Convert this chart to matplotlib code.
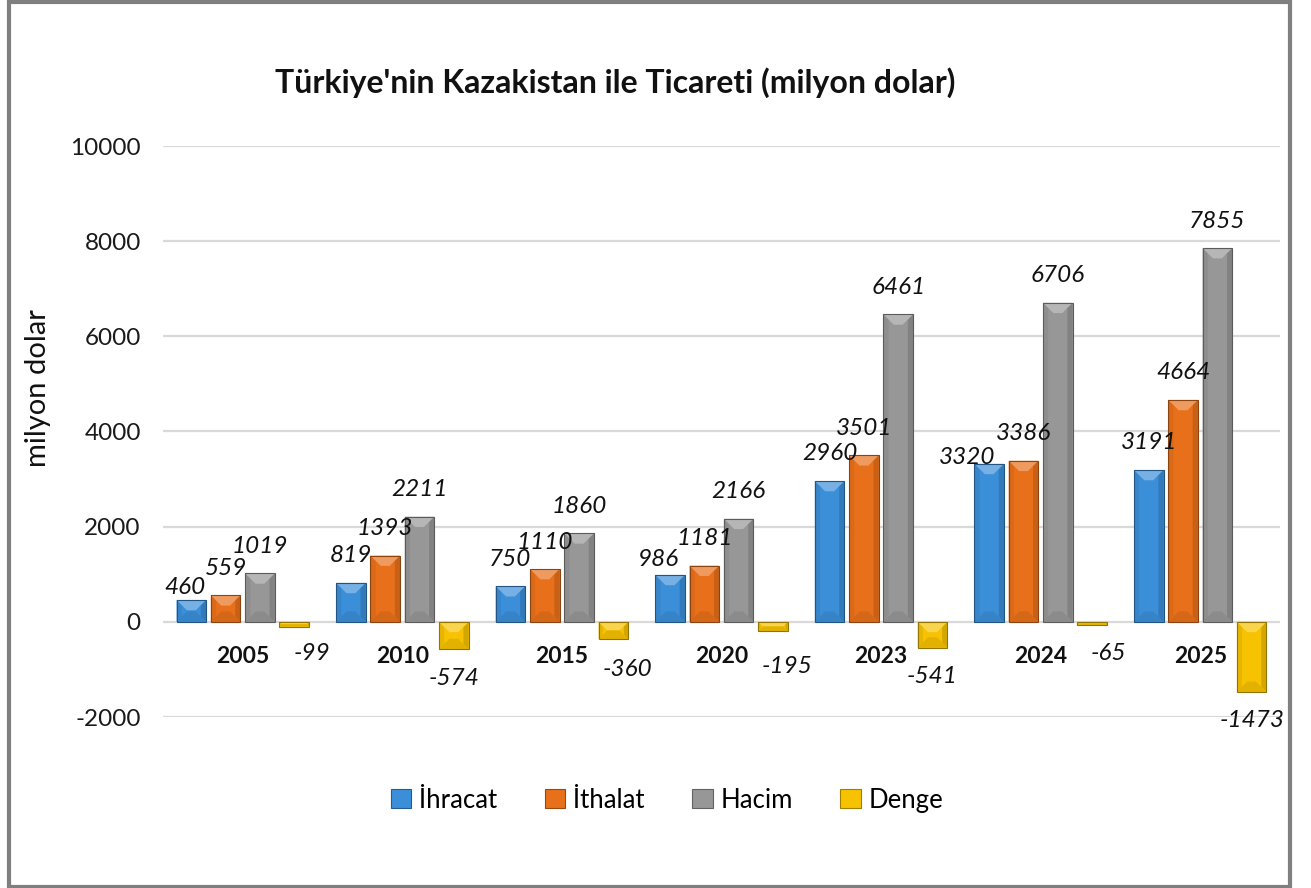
import matplotlib
matplotlib.use("Agg")
import matplotlib.pyplot as plt
from matplotlib.patches import Polygon, Rectangle, Patch
import numpy as np

# ---------------- data ----------------
years = ["2005", "2010", "2015", "2020", "2023", "2024", "2025"]
ihracat = [460, 819, 750, 986, 2960, 3320, 3191]
ithalat = [559, 1393, 1110, 1181, 3501, 3386, 4664]
hacim = [1019, 2211, 1860, 2166, 6461, 6706, 7855]
denge = [-99, -574, -360, -195, -541, -65, -1473]
series_names = ["İhracat", "İthalat", "Hacim", "Denge"]
title = "Türkiye'nin Kazakistan ile Ticareti (milyon dolar)"
ylabel = "milyon dolar"

# ---------------- style ----------------
colors = ["#3B8ED8", "#E8701A", "#979797", "#F7C200"]
FONT = "Lato"
plt.rcParams["font.family"] = [FONT, "DejaVu Sans"]
plt.rcParams["axes.unicode_minus"] = False

W, H = 1311, 888
fig = plt.figure(figsize=(W / 100, H / 100), dpi=100)
ax_l, ax_r, ax_t, ax_b = 163, 1280, 146, 717
ax = fig.add_axes([ax_l / W, 1 - ax_b / H, (ax_r - ax_l) / W, (ax_b - ax_t) / H])

ymin, ymax = -2000, 10000
ax.set_ylim(ymin, ymax)
ax.set_xlim(-0.5, len(years) - 0.5)
ax.set_yticks(np.arange(ymin, ymax + 1, 2000))
ax.yaxis.grid(True, color="#D9D9D9", linewidth=1.6)
ax.set_axisbelow(True)
for s in ax.spines.values():
    s.set_visible(False)
ax.tick_params(axis="y", length=0, pad=16, labelsize=17.5, labelcolor="#1a1a1a")
ax.set_xticks([])
for lab in ax.get_yticklabels():
    lab.set_fontfamily(FONT)

px_per_x = (ax_r - ax_l) / (len(years))
px_per_y = (ax_b - ax_t) / (ymax - ymin)

bw = 0.185
step = 0.215
offsets = [-1.5 * step, -0.5 * step, 0.5 * step, 1.5 * step]


def mix(c, other, t):
    c = np.array(matplotlib.colors.to_rgb(c))
    o = np.array(matplotlib.colors.to_rgb(other))
    return tuple(c * (1 - t) + o * t)


all_series = [ihracat, ithalat, hacim, denge]
x = np.arange(len(years))
for si, vals in enumerate(all_series):
    col = colors[si]
    xs = x + offsets[si]
    # faint shadow
    ax.bar(xs + 0.006, vals, bw, bottom=0, color="#000000", alpha=0.07,
           zorder=1.5, linewidth=0)
    ax.bar(xs, vals, bw, color=col, edgecolor="none", linewidth=0, zorder=2)
    for xc, v in zip(xs, vals):
        top, bot = max(v, 0), min(v, 0)
        h_px = (top - bot) * px_per_y
        half_w_px = bw / 2 * px_per_x
        b_px = min(half_w_px * 0.7, h_px / 2)
        by = b_px / px_per_y
        bx = min(b_px / px_per_x, bw / 2)
        x0, x1 = xc - bw / 2, xc + bw / 2
        # left/right soft edges
        ax.add_patch(Polygon([(x0, top), (x0 + bx * 0.5, top - by * 0.5),
                              (x0 + bx * 0.5, bot + by * 0.5), (x0, bot)],
                             closed=True, facecolor=mix(col, "black", 0.06),
                             edgecolor="none", zorder=3))
        ax.add_patch(Polygon([(x1, top), (x1 - bx * 0.5, top - by * 0.5),
                              (x1 - bx * 0.5, bot + by * 0.5), (x1, bot)],
                             closed=True, facecolor=mix(col, "black", 0.14),
                             edgecolor="none", zorder=3))
        # top facet (light)
        ax.add_patch(Polygon([(x0, top), (x1, top), (x1 - bx, top - by), (x0 + bx, top - by)],
                             closed=True, facecolor=mix(col, "white", 0.30),
                             edgecolor="none", zorder=3))
        # bottom facet (slightly dark)
        ax.add_patch(Polygon([(x0, bot), (x1, bot), (x1 - bx, bot + by), (x0 + bx, bot + by)],
                             closed=True, facecolor=mix(col, "black", 0.08),
                             edgecolor="none", zorder=3))
        ax.add_patch(Rectangle((x0, bot), bw, top - bot, facecolor="none",
                               edgecolor=mix(col, "black", 0.40), linewidth=0.8, zorder=3.5))

# data labels (offsets in pixels; a few labels were moved in the original)
label_shift = {
    (0, 0): (-6, 12), (0, 3): (-12, 15), (0, 5): (-22, 6),
    (3, 0): (18, -27), (3, 2): (14, -31), (3, 3): (14, -35), (3, 5): (16, -29),
}
for si, vals in enumerate(all_series):
    for i, v in enumerate(vals):
        dx, dy = label_shift.get((si, i), (0, 27 if v >= 0 else -29))
        ax.annotate(f"{v}", xy=(x[i] + offsets[si], v), xytext=(dx, dy),
                    textcoords="offset pixels", ha="center", va="center",
                    fontsize=17.5, style="italic", color="#111111",
                    fontfamily=FONT, zorder=5, annotation_clip=False)

# category labels below zero
for i, yr in enumerate(years):
    ax.annotate(yr, xy=(x[i], 0), xytext=(0, -35), textcoords="offset pixels",
                ha="center", va="center", fontsize=16.5, fontweight="bold",
                color="#111111", fontfamily=FONT, zorder=5)

# title and axis label
fig.text(615 / W, 1 - 93 / H, title, ha="center", va="baseline",
         fontsize=23, fontweight="bold", color="#111111", fontfamily=FONT)
fig.text(38 / W, 1 - 388 / H, ylabel, ha="center", va="center", rotation=90,
         fontsize=21, color="#111111", fontfamily=FONT)

# legend
handles = [Patch(facecolor=c, edgecolor=mix(c, "black", 0.35), linewidth=0.8) for c in colors]
fig.legend(handles, series_names, loc="center", bbox_to_anchor=(667 / W, 1 - 800 / H),
           ncol=4, frameon=False, handlelength=0.8, handleheight=0.8,
           handletextpad=0.3, columnspacing=1.85, prop={"family": FONT, "size": 18.5})

# outer border
fig.patches.append(Rectangle((8.5 / W, 1.5 / H), (1290 - 8.5) / W, (H - 4) / H,
                             transform=fig.transFigure, fill=False,
                             edgecolor="#7F7F7F", linewidth=3))

fig.savefig("out.png", dpi=100)
